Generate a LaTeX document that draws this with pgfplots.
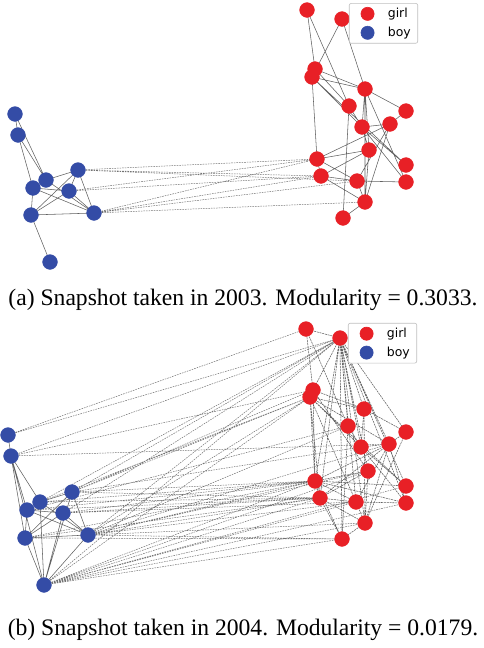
\documentclass[border=0pt]{standalone}
\usepackage{pgfplots}
\pgfplotsset{compat=1.18}
\usepackage{fontspec}
\setmainfont{Liberation Serif}
\newfontfamily\legendfont{DejaVu Sans}
\definecolor{girlred}{RGB}{232,32,38}
\definecolor{boyblue}{RGB}{52,76,166}
\pgfplotsset{
  edge/.style={no markers, forget plot, unbounded coords=jump, line width=0.55bp, color=black!62},
  cross/.style={no markers, forget plot, unbounded coords=jump, line width=0.5bp, color=black!55, dash pattern=on 1.6bp off 1bp},
  girl/.style={only marks, mark=*, mark size=7.4bp, mark options={draw=girlred, fill=girlred}},
  boy/.style={only marks, mark=*, mark size=7.4bp, mark options={draw=boyblue, fill=boyblue}},
  panel/.style={scale only axis, width=484bp, hide axis, xmin=0, xmax=484, y dir=reverse, clip=false,
    legend cell align=left,
    legend image code/.code={\path (0bp,0bp) (31bp,0bp); \draw[##1, mark size=6.6bp] plot coordinates {(13bp,0bp)};},
    legend style={draw=black!25, line width=0.6bp, rounded corners=2bp, fill=white, font=\legendfont\fontsize{12.5}{14}\selectfont,
      anchor=north west, inner xsep=5bp, inner ysep=3bp, row sep=4bp}},
}
\begin{document}
\begin{tikzpicture}
\useasboundingbox (0,0) rectangle (484bp,-648bp);
% ---------------- panel (a) ----------------
\begin{axis}[panel, at={(0,0)}, anchor=north west, height=280bp, ymin=0, ymax=280,
  legend style={at={(0.721,0.989)}}]
% blue intra edges
\addplot[edge] coordinates {
(15,114)(18,135)(nan,nan) (15,114)(46,180)(nan,nan) (18,135)(46,180)(nan,nan)
(18,135)(33,188)(nan,nan) (46,180)(78,170)(nan,nan) (46,180)(94,213)(nan,nan)
(33,188)(69,191)(nan,nan) (33,188)(94,213)(nan,nan) (78,170)(31,215)(nan,nan)
(78,170)(94,213)(nan,nan) (69,191)(31,215)(nan,nan) (69,191)(94,213)(nan,nan)
(31,215)(94,213)(nan,nan) (31,215)(50,262)(nan,nan) (33,188)(31,215)(nan,nan)
(78,170)(69,191)
};
% red intra edges
\addplot[edge] coordinates {
(307,10)(315,69)(nan,nan) (307,10)(349,106)(nan,nan) (342,19)(312,77)(nan,nan)
(342,19)(365,89)(nan,nan) (315,69)(365,89)(nan,nan) (312,77)(365,89)(nan,nan)
(312,77)(362,127)(nan,nan) (312,77)(406,165)(nan,nan) (312,77)(317,159)(nan,nan)
(315,69)(349,106)(nan,nan) (349,106)(343,218)(nan,nan) (365,89)(406,111)(nan,nan)
(365,89)(362,127)(nan,nan) (365,89)(369,150)(nan,nan) (365,89)(365,202)(nan,nan)
(365,89)(406,182)(nan,nan) (349,106)(362,127)(nan,nan) (406,111)(390,124)(nan,nan)
(362,127)(390,124)(nan,nan) (390,124)(357,181)(nan,nan) (390,124)(365,202)(nan,nan)
(362,127)(369,150)(nan,nan) (362,127)(406,165)(nan,nan) (369,150)(317,159)(nan,nan)
(369,150)(321,176)(nan,nan) (369,150)(365,202)(nan,nan) (317,159)(390,124)(nan,nan)
(317,159)(357,181)(nan,nan) (321,176)(357,181)(nan,nan) (321,176)(365,202)(nan,nan)
(357,181)(406,182)(nan,nan) (357,181)(365,202)(nan,nan) (365,202)(343,218)(nan,nan)
(317,159)(321,176)(nan,nan) (362,127)(406,182)
};
% cross edges
\addplot[cross] coordinates {
(78,170)(317,159)(nan,nan) (78,170)(321,176)(nan,nan) (69,191)(317,159)(nan,nan)
(69,191)(321,176)(nan,nan) (94,213)(317,159)(nan,nan) (94,213)(321,176)(nan,nan)
(94,213)(365,202)(nan,nan) (94,213)(357,181)(nan,nan) (78,170)(357,181)
};
\addplot[girl] coordinates {
(307,10)(342,19)(315,69)(312,77)(365,89)(349,106)(406,111)(362,127)(390,124)
(369,150)(317,159)(321,176)(357,181)(406,165)(406,182)(365,202)(343,218)
};
\addlegendentry{girl}
\addplot[boy] coordinates {
(15,114)(18,135)(46,180)(33,188)(78,170)(69,191)(31,215)(94,213)(50,262)
};
\addlegendentry{boy}
\end{axis}
% ---------------- panel (b) ----------------
\begin{axis}[panel, at={(0,-310bp)}, anchor=north west, height=300bp, ymin=310, ymax=610,
  legend style={at={(0.719,0.957)}}]
% blue intra edges
\addplot[edge] coordinates {
(8,435)(11,456)(nan,nan) (11,456)(40,502)(nan,nan) (11,456)(27,510)(nan,nan)
(11,456)(25,538)(nan,nan) (11,456)(44,585)(nan,nan) (40,502)(72,492)(nan,nan)
(40,502)(88,535)(nan,nan) (27,510)(63,513)(nan,nan) (27,510)(88,535)(nan,nan)
(72,492)(25,538)(nan,nan) (72,492)(88,535)(nan,nan) (63,513)(25,538)(nan,nan)
(63,513)(88,535)(nan,nan) (25,538)(88,535)(nan,nan) (25,538)(44,585)(nan,nan)
(27,510)(25,538)(nan,nan) (40,502)(44,585)(nan,nan) (63,513)(44,585)(nan,nan)
(88,535)(44,585)(nan,nan) (72,492)(44,585)
};
% red intra edges
\addplot[edge, dash pattern=on 2bp off 0.8bp] coordinates {
(306,329)(340,338)(nan,nan) (306,329)(313,390)(nan,nan) (306,329)(348,426)(nan,nan)
(340,338)(313,390)(nan,nan) (340,338)(364,409)(nan,nan) (340,338)(348,426)(nan,nan)
(340,338)(406,432)(nan,nan) (340,338)(361,447)(nan,nan) (340,338)(389,444)(nan,nan)
(340,338)(368,471)(nan,nan) (340,338)(315,481)(nan,nan) (340,338)(320,498)(nan,nan)
(340,338)(356,502)(nan,nan) (340,338)(406,486)(nan,nan) (340,338)(406,503)(nan,nan)
(340,338)(365,523)(nan,nan) (340,338)(342,539)(nan,nan) (313,390)(364,409)(nan,nan)
(313,390)(368,471)(nan,nan) (313,390)(315,481)(nan,nan) (310,397)(315,481)(nan,nan)
(310,397)(320,498)(nan,nan) (310,397)(364,409)(nan,nan) (310,397)(361,447)(nan,nan)
(310,397)(389,444)(nan,nan) (310,397)(406,486)(nan,nan) (310,397)(356,502)(nan,nan)
(364,409)(406,432)(nan,nan) (364,409)(361,447)(nan,nan) (364,409)(365,523)(nan,nan)
(348,426)(361,447)(nan,nan) (348,426)(342,539)(nan,nan) (406,432)(389,444)(nan,nan)
(406,432)(365,523)(nan,nan) (361,447)(389,444)(nan,nan) (361,447)(406,486)(nan,nan)
(361,447)(406,503)(nan,nan) (389,444)(315,481)(nan,nan) (389,444)(320,498)(nan,nan)
(389,444)(356,502)(nan,nan) (389,444)(365,523)(nan,nan) (389,444)(406,503)(nan,nan)
(368,471)(315,481)(nan,nan) (368,471)(320,498)(nan,nan) (368,471)(365,523)(nan,nan)
(315,481)(320,498)(nan,nan) (315,481)(356,502)(nan,nan) (315,481)(406,486)(nan,nan)
(315,481)(406,503)(nan,nan) (315,481)(342,539)(nan,nan) (320,498)(356,502)(nan,nan)
(320,498)(365,523)(nan,nan) (320,498)(342,539)(nan,nan) (356,502)(406,503)(nan,nan)
(356,502)(365,523)(nan,nan) (365,523)(342,539)
};
% cross edges
\addplot[cross] coordinates {
(8,435)(306,329)(nan,nan) (8,435)(340,338)(nan,nan) (11,456)(389,444)(nan,nan)
(11,456)(340,338)(nan,nan) (11,456)(313,390)(nan,nan) (40,502)(340,338)(nan,nan)
(40,502)(315,481)(nan,nan) (40,502)(320,498)(nan,nan) (40,502)(310,397)(nan,nan)
(27,510)(315,481)(nan,nan) (27,510)(320,498)(nan,nan) (27,510)(348,426)(nan,nan)
(72,492)(340,338)(nan,nan) (72,492)(310,397)(nan,nan) (72,492)(315,481)(nan,nan)
(72,492)(313,390)(nan,nan) (72,492)(361,447)(nan,nan) (72,492)(320,498)(nan,nan)
(63,513)(340,338)(nan,nan) (63,513)(315,481)(nan,nan) (63,513)(320,498)(nan,nan)
(63,513)(356,502)(nan,nan) (25,538)(315,481)(nan,nan) (25,538)(320,498)(nan,nan)
(25,538)(342,539)(nan,nan) (88,535)(340,338)(nan,nan) (88,535)(310,397)(nan,nan)
(88,535)(315,481)(nan,nan) (88,535)(320,498)(nan,nan) (88,535)(356,502)(nan,nan)
(88,535)(368,471)(nan,nan) (88,535)(365,523)(nan,nan) (88,535)(342,539)(nan,nan)
(88,535)(389,444)(nan,nan) (88,535)(348,426)(nan,nan) (44,585)(340,338)(nan,nan)
(44,585)(310,397)(nan,nan) (44,585)(315,481)(nan,nan) (44,585)(320,498)(nan,nan)
(44,585)(356,502)(nan,nan) (44,585)(365,523)(nan,nan) (44,585)(342,539)(nan,nan)
(44,585)(368,471)(nan,nan) (44,585)(406,486)(nan,nan) (44,585)(406,503)
};
\addplot[girl] coordinates {
(306,329)(340,338)(313,390)(310,397)(364,409)(348,426)(406,432)(361,447)(389,444)
(368,471)(315,481)(320,498)(356,502)(406,486)(406,503)(365,523)(342,539)
};
\addlegendentry{girl}
\addplot[boy] coordinates {
(8,435)(11,456)(40,502)(27,510)(72,492)(63,513)(25,538)(88,535)(44,585)
};
\addlegendentry{boy}
\end{axis}
% captions
\node[anchor=base, font=\fontsize{23.7}{28}\selectfont, inner sep=0pt] at (243bp,-305bp)
  {(a) Snapshot taken in 2003. Modularity = 0.3033.};
\node[anchor=base, font=\fontsize{23.7}{28}\selectfont, inner sep=0pt] at (243bp,-635bp)
  {(b) Snapshot taken in 2004. Modularity = 0.0179.};
\end{tikzpicture}
\end{document}
